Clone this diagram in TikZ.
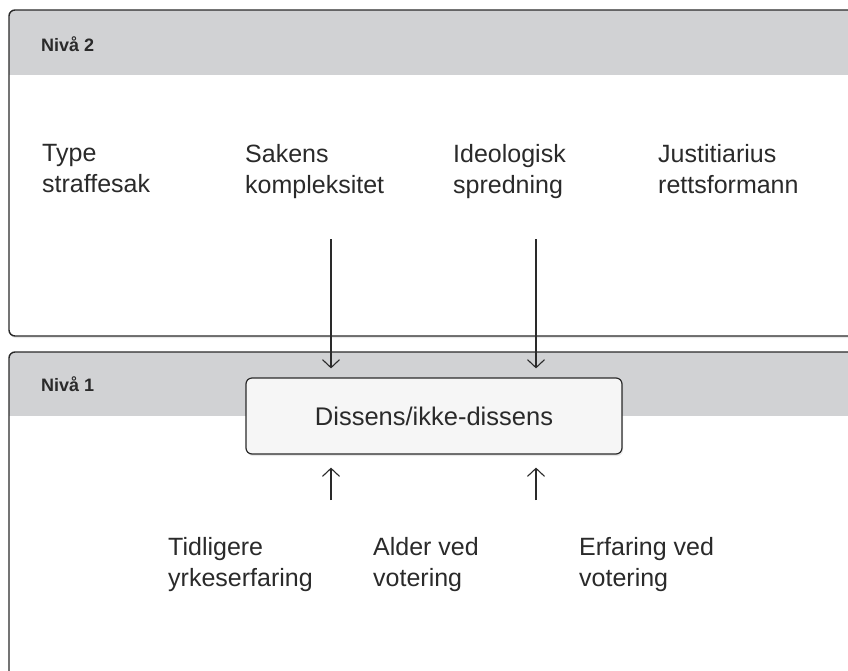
\documentclass[tikz,border=0pt]{standalone}
\usepackage{fontspec}
\setmainfont{Liberation Sans}
\usetikzlibrary{arrows.meta,shadows}
\definecolor{hdr}{HTML}{D1D2D4}
\definecolor{ink}{HTML}{2A2A2A}
\definecolor{boxfill}{HTML}{F6F6F6}
\tikzset{
  panelfill/.style={fill=white, rounded corners=6pt, drop shadow={opacity=0.18, shadow xshift=1pt, shadow yshift=-2pt}},
  panelline/.style={draw=ink, line width=1.4pt, rounded corners=6pt},
  lbl/.style={anchor=north west, inner sep=0pt, align=left, text=ink, font=\fontsize{25}{31}\selectfont},
  lvl/.style={anchor=base west, inner sep=0pt, text=ink, font=\bfseries\fontsize{18}{22}\selectfont},
  mainbox/.style={draw=ink, line width=1.2pt, rounded corners=6pt, fill=boxfill,
    minimum width=376pt, minimum height=76pt, inner sep=0pt,
    font=\fontsize{25.5}{30}\selectfont, text=ink,
    drop shadow={opacity=0.18, shadow xshift=1pt, shadow yshift=-2pt}},
  arr/.style={draw=ink, line width=1.1pt, -{Straight Barb[length=8pt,width=17pt,line width=1.1pt]}},
}
\begin{document}
\begin{tikzpicture}[x=1pt,y=-1pt]
\useasboundingbox (0,0) rectangle (848,670);
% top panel (Niva 2)
\path[panelfill] (9,10) rectangle (880,336);
\begin{scope}
  \clip[rounded corners=6pt] (9,10) rectangle (880,336);
  \fill[hdr] (9,10) rectangle (880,75);
\end{scope}
\path[panelline] (9,10) rectangle (880,336);
% bottom panel (Niva 1)
\path[panelfill] (9,352) rectangle (880,700);
\begin{scope}
  \clip[rounded corners=6pt] (9,352) rectangle (880,700);
  \fill[hdr] (9,352) rectangle (880,416);
\end{scope}
\path[panelline] (9,352) rectangle (880,700);
% level titles
\node[lvl] (n2) at (41,51) {Nivå 2};
\node[lvl] (n1) at (41,391) {Nivå 1};
% level 2 labels
\node[lbl] (type) at (42,144) {Type\\straffesak};
\node[lbl] (kompl) at (245,144) {Sakens\\kompleksitet};
\node[lbl] (ideo) at (453,144) {Ideologisk\\spredning};
\node[lbl] (just) at (658,144) {Justitiarius\\rettsformann};
% level 1 labels
\node[lbl] (tidl) at (168,537) {Tidligere\\yrkeserfaring};
\node[lbl] (alder) at (373,537) {Alder ved\\votering};
\node[lbl] (erf) at (579,537) {Erfaring ved\\votering};
% main box
\node[mainbox] (m) at (434,416) {Dissens/ikke-dissens};
% arrows
\coordinate (d1) at (331,239);
\coordinate (d2) at (536,239);
\coordinate (u1) at (331,500);
\coordinate (u2) at (536,500);
\draw[arr, shorten >=9pt] (d1) -- (d1 |- m.north);
\draw[arr, shorten >=9pt] (d2) -- (d2 |- m.north);
\draw[arr, shorten >=13pt] (u1) -- (u1 |- m.south);
\draw[arr, shorten >=13pt] (u2) -- (u2 |- m.south);
\end{tikzpicture}
\end{document}
